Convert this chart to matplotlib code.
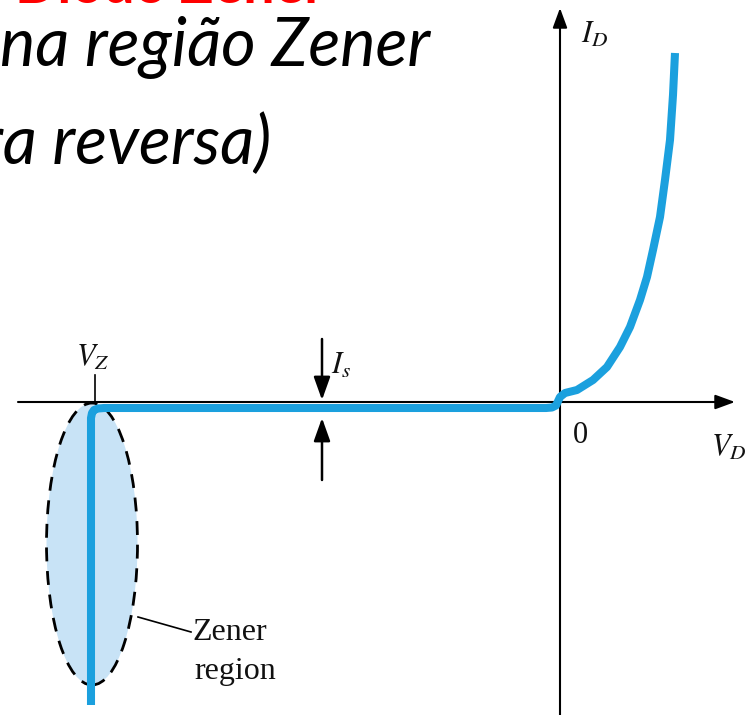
import matplotlib
matplotlib.use("Agg")
import matplotlib.pyplot as plt
from matplotlib.patches import Ellipse

plt.rcParams["mathtext.fontset"] = "stix"

# diode characteristic (arbitrary units: V_D horizontal, I_D vertical)
V_Z = -4.68

reverse_v = [-4.69, -4.69, -4.68, -4.66, -4.62, -4.56, -0.14, -0.08, -0.04]
reverse_i = [-3.03, -0.16, -0.11, -0.08, -0.065, -0.06, -0.06, -0.055, -0.035]

forward_v = [0.00, 0.05, 0.17, 0.33, 0.47, 0.60, 0.70, 0.80, 0.87, 0.93,
             1.00, 1.05, 1.10, 1.13, 1.15]
forward_i = [0.05, 0.09, 0.12, 0.22, 0.35, 0.55, 0.75, 1.02, 1.25, 1.52,
             1.85, 2.22, 2.62, 3.07, 3.49]

BLUE = "#1ba0de"
FILL = "#c8e3f6"

fig = plt.figure(figsize=(7.56, 7.15), dpi=100)
ax = fig.add_axes([0, 0, 1, 1])
ax.set_xlim(-5.60, 1.96)
ax.set_ylim(-3.13, 4.02)
ax.axis("off")

# zener region
ell = Ellipse((V_Z, -1.42), 0.91, 2.82, facecolor=FILL, edgecolor="black",
              linestyle=(0, (5, 3.5)), lw=2.0, zorder=1)
ax.add_patch(ell)

# axes with arrows
axis_arrow = dict(arrowstyle="-|>,head_length=0.6,head_width=0.22", lw=1.5,
                  color="black", mutation_scale=20, shrinkA=0, shrinkB=0)
ax.annotate("", xy=(1.75, 0), xytext=(-5.42, 0), arrowprops=axis_arrow, zorder=2)
ax.annotate("", xy=(0, 3.94), xytext=(0, -3.13), arrowprops=axis_arrow, zorder=2)

# curve
ax.plot(reverse_v + forward_v, reverse_i + forward_i, color=BLUE, lw=5.8,
        solid_capstyle="butt", solid_joinstyle="round", zorder=3)

# V_Z tick
ax.plot([-4.65, -4.65], [0.01, 0.27], color="black", lw=1.2, zorder=2)

# I_s arrows
small_arrow = dict(arrowstyle="-|>,head_length=0.7,head_width=0.25", lw=1.8,
                   color="black", mutation_scale=20, shrinkA=0, shrinkB=0)
ax.annotate("", xy=(-2.38, 0.02), xytext=(-2.38, 0.63), arrowprops=small_arrow)
ax.annotate("", xy=(-2.38, -0.16), xytext=(-2.38, -0.78), arrowprops=small_arrow)

# leader line for zener region
ax.plot([-4.22, -3.69], [-2.15, -2.30], color="black", lw=1.2)

lab = dict(fontsize=22, color="#111111")
ax.text(-4.84, 0.30, r"$V_Z$", ha="left", va="bottom", **lab)
ax.text(-2.29, 0.22, r"$I_s$", ha="left", va="bottom", **lab)
ax.text(0.21, 3.53, r"$I_D$", ha="left", va="bottom", **lab)
ax.text(1.51, -0.60, r"$V_D$", ha="left", va="bottom", **lab)
ax.text(0.13, -0.19, "0", ha="left", va="top", family="Liberation Serif",
        fontsize=22, color="#111111")
ax.text(-3.68, -2.31, "Zener", ha="left", va="center", family="Liberation Serif",
        fontsize=23, color="#111111")
ax.text(-3.66, -2.70, "region", ha="left", va="center", family="Liberation Serif",
        fontsize=23, color="#111111")

# slide title, partly outside the frame
title = dict(family="Lato", style="italic", fontsize=48, color="black",
             ha="left", va="baseline")
ax.text(-5.60, 3.36, "na região Zener", **title)
ax.text(-5.80, 2.38, "ra reversa)", **title)
ax.text(-5.45, 3.90, "Diodo Zener", family="Lato", fontweight="bold", fontsize=40,
        color="red", ha="left", va="bottom")

fig.savefig("out.png", dpi=100)
